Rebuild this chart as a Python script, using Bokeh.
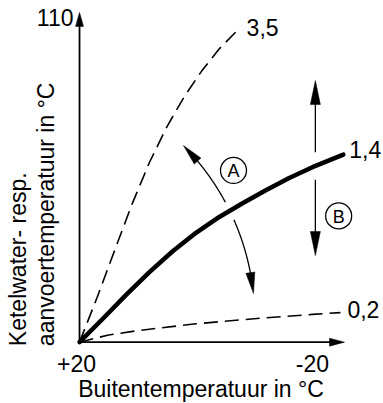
import numpy as np
from bokeh.plotting import figure
from bokeh.models import Range1d
from bokeh.embed import file_html
from bokeh.resources import INLINE
from bokeh.core.properties import value

# ---------------- data ----------------
outdoor_35 = [20, 17, 14, 11, 8, 5, 2, -1, -4, -6.8]
flow_35 = [20, 32.3, 45.3, 58.2, 69.8, 79.7, 88.1, 95.2, 101.3, 105.9]
outdoor_14 = [20, 16, 12, 8, 4, 0, -4, -8, -12, -16, -20, -25.3]
flow_14 = [20, 26.5, 33.1, 39.4, 45.2, 50.3, 54.7, 58.5, 62.1, 65.5, 68.5, 72.0]
outdoor_02 = [20, 15, 10, 0, -10, -20, -24.8]
flow_02 = [20, 22.0, 23.2, 25.1, 26.5, 27.7, 28.2]
slope_labels = ["3,5", "1,4", "0,2"]

x_tick_values = [20, -20]
x_tick_labels = ["+20", "-20"]
y_tick_value = 110
y_tick_label = "110"
x_title = "Buitentemperatuur in °C"
y_title_lines = ["Ketelwater- resp.", "aanvoertemperatuur in °C"]

origin = (20, 20)
x_axis_end = -25.5
y_axis_end = 111.4

# annotation A (slope change arc) and B (parallel shift)
arc_a_points = [(2.15, 74.5), (-5.07, 58.7), (-9.87, 33.5)]
arrow_b_x = -20.5
arrow_b_top = 92.5
arrow_b_bottom = 44.0
marker_a = (-6.44, 67.6)
marker_b = (-24.5, 55.0)
marker_texts = ["A", "B"]

# ---------------- layout ----------------
W, H = 383, 403
X0, X1 = 33.57, -32.2
Y0, Y1 = 3.0, 114.7
KX = W / (X0 - X1)
KY = H / (Y1 - Y0)
FONT = value("Liberation Sans")


def to_s(t, f):
    return np.array([(X0 - t) * KX, (Y1 - f) * KY], dtype=float)


def to_d(s):
    return X0 - s[0] / KX, Y1 - s[1] / KY


def head(tip_s, d, L, wd):
    d = np.asarray(d, float)
    d = d / np.hypot(*d)
    base = tip_s - L * d
    perp = np.array([-d[1], d[0]])
    pts = [tip_s, base + wd / 2 * perp, base - wd / 2 * perp]
    xs, ys = zip(*[to_d(q) for q in pts])
    return list(xs), list(ys)


curve14_s = np.array([to_s(t, f) for t, f in zip(outdoor_14, flow_14)])


def dist_to_curve(q):
    best = 1e9
    for a, b in zip(curve14_s[:-1], curve14_s[1:]):
        ab = b - a
        u = np.clip(np.dot(q - a, ab) / np.dot(ab, ab), 0, 1)
        best = min(best, np.hypot(*(q - (a + u * ab))))
    return best


p = figure(width=W, height=H, x_range=Range1d(X0, X1), y_range=Range1d(Y0, Y1),
           x_axis_type=None, y_axis_type=None, toolbar_location=None,
           output_backend="svg", min_border=0, outline_line_color=None,
           background_fill_color="white", border_fill_color="white")

head_xs, head_ys = [], []

# axes
p.line([origin[0], origin[0]], [origin[1], y_axis_end - 3], line_color="black", line_width=1.8)
p.line([origin[0], x_axis_end + 2], [origin[1], origin[1]], line_color="black", line_width=1.8)
hx, hy = head(to_s(origin[0], y_axis_end), (0, -1), 14, 8)
head_xs.append(hx); head_ys.append(hy)
hx, hy = head(to_s(x_axis_end, origin[1]), (1, 0), 15, 8)
head_xs.append(hx); head_ys.append(hy)

# dashed curves
for xs, ys in [(outdoor_35, flow_35), (outdoor_02, flow_02)]:
    p.line(xs, ys, line_color="black", line_width=1.6, line_dash="14 7")

# arc A
P = [to_s(t, f) for t, f in arc_a_points]
(x1, y1), (x2, y2), (x3, y3) = P
A = np.array([[2 * (x2 - x1), 2 * (y2 - y1)], [2 * (x3 - x2), 2 * (y3 - y2)]])
bvec = np.array([x2**2 + y2**2 - x1**2 - y1**2, x3**2 + y3**2 - x2**2 - y2**2])
cx, cy = np.linalg.solve(A, bvec)
r = np.hypot(x1 - cx, y1 - cy)
a1 = np.arctan2(y1 - cy, x1 - cx)
a3 = np.arctan2(y3 - cy, x3 - cx)
L_head, W_head = 21, 9
da = L_head / r
angs = np.linspace(a1 + da * 0.8, a3 - da * 0.8, 300)
arc_x, arc_y = [], []
for a in angs:
    q = np.array([cx + r * np.cos(a), cy + r * np.sin(a)])
    if dist_to_curve(q) < 9.5:
        arc_x.append(np.nan); arc_y.append(np.nan)
    else:
        t, f = to_d(q)
        arc_x.append(t); arc_y.append(f)
p.line(arc_x, arc_y, line_color="black", line_width=1.3)
for a_tip, a_base in [(a1, a1 + da), (a3, a3 - da)]:
    tip = np.array([cx + r * np.cos(a_tip), cy + r * np.sin(a_tip)])
    base = np.array([cx + r * np.cos(a_base), cy + r * np.sin(a_base)])
    hx, hy = head(tip, tip - base, L_head, W_head)
    head_xs.append(hx); head_ys.append(hy)

# arrow B
top_s = to_s(arrow_b_x, arrow_b_top)
bot_s = to_s(arrow_b_x, arrow_b_bottom)
ys_s = np.linspace(top_s[1] + L_head * 0.8, bot_s[1] - L_head * 0.8, 300)
bx, by = [], []
for yy in ys_s:
    q = np.array([top_s[0], yy])
    if dist_to_curve(q) < 12.5:
        bx.append(np.nan); by.append(np.nan)
    else:
        t, f = to_d(q)
        bx.append(t); by.append(f)
p.line(bx, by, line_color="black", line_width=1.3)
hx, hy = head(top_s, (0, -1), 24, 10)
head_xs.append(hx); head_ys.append(hy)
hx, hy = head(bot_s, (0, 1), 24, 10)
head_xs.append(hx); head_ys.append(hy)

p.patches(head_xs, head_ys, fill_color="black", line_color="black", line_width=0.5)

# main curve 1,4
p.line(outdoor_14, flow_14, line_color="black", line_width=4.5,
       line_cap="round", line_join="round")

# markers A / B
p.scatter([marker_a[0], marker_b[0]], [marker_a[1], marker_b[1]], size=26,
          marker="circle", fill_color="white", line_color="black", line_width=1.3)
p.text([marker_a[0], marker_b[0]], [marker_a[1], marker_b[1]], text=marker_texts,
       text_font=FONT, text_font_size="18px", text_align="center",
       text_baseline="middle", y_offset=1)

# curve labels
ends_x = [outdoor_35[-1], outdoor_14[-1], outdoor_02[-1]]
ends_y = [flow_35[-1], flow_14[-1], flow_02[-1]]
p.text(ends_x, ends_y, text=slope_labels, text_font=FONT, text_font_size="23px",
       text_align="left", text_baseline="middle",
       x_offset=[11, 6, 7], y_offset=[-5, -5, -3])

# tick labels
p.text(x_tick_values, [origin[1]] * 2, text=x_tick_labels, text_font=FONT,
       text_font_size="23px", text_align="center", text_baseline="middle",
       x_offset=[-3, 0], y_offset=21.5)
p.text([origin[0]], [y_tick_value], text=[y_tick_label], text_font=FONT,
       text_font_size="23px", text_align="right", text_baseline="middle", x_offset=-6)

# axis titles
p.text([0], [origin[1]], text=[x_title], text_font=FONT, text_font_size="23px",
       text_align="center", text_baseline="middle", x_offset=5, y_offset=46.5)
p.text([origin[0], origin[0]], [origin[1], origin[1]], text=y_title_lines,
       text_font=FONT, text_font_size="23px", text_align="left",
       text_baseline="middle", angle=np.pi / 2, x_offset=[-62, -34], y_offset=4)

open("out.html", "w").write(file_html(p, INLINE))
